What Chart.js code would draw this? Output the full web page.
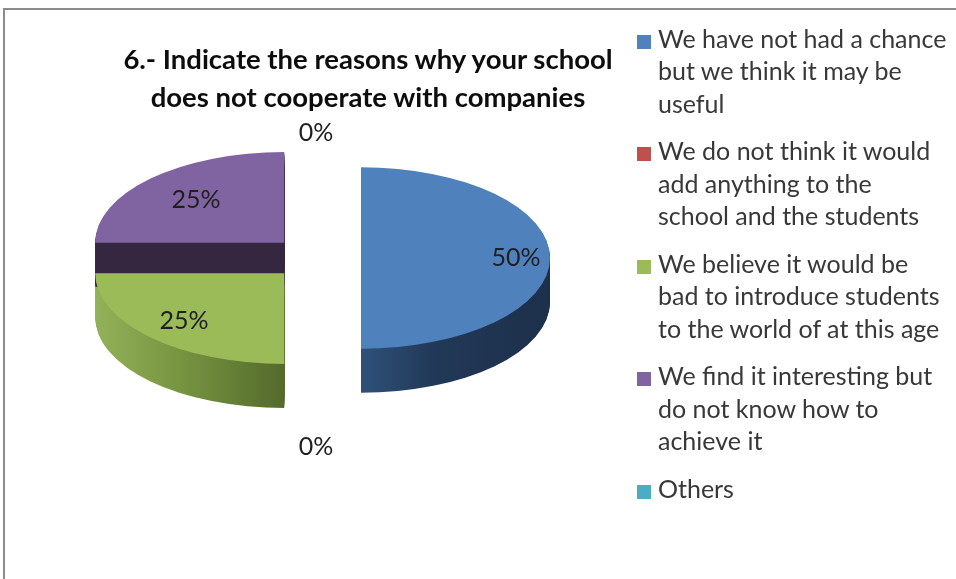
<!DOCTYPE html>
<html>
<head>
<meta charset="utf-8">
<title>Reasons for not cooperating with companies</title>
<script src="https://cdn.jsdelivr.net/npm/chart.js@4.4.0/dist/chart.umd.min.js"></script>
<style>
  html, body { margin: 0; padding: 0; background: #fff; overflow: hidden; }
  body { position: relative; width: 956px; height: 579px; font-family: Lato, "Open Sans", sans-serif; }
  .frame {
    position: absolute; left: 3px; top: 8px; width: 1000px; height: 620px;
    border-top: 2px solid #8c8c8c; border-left: 2px solid #8c8c8c;
  }
  #pie { position: absolute; left: 0; top: 0; }
  .title {
    position: absolute; left: 108px; top: 40px; width: 520px;
    text-align: center; white-space: nowrap;
    font-size: 27.5px; font-weight: 700; line-height: 38px; color: #0d0d0d;
  }
  .legend {
    position: absolute; left: 637px; top: 22px; margin: 0; padding: 0; list-style: none;
    font-size: 25px; line-height: 32.3px; color: #383838;
  }
  .legend li { position: relative; padding-left: 21px; margin-bottom: 15.6px; white-space: nowrap; }
  .legend .sw { position: absolute; left: 0; top: 13px; width: 14px; height: 14px; }
</style>
</head>
<body>
<div class="frame"></div>
<canvas id="pie" width="956" height="579"></canvas>
<div class="title">6.- Indicate the reasons why your school<br>does not cooperate with companies</div>
<ul class="legend" id="legend"></ul>

<script>
// answers (share of schools, %)
const reasons = [
  ['We have not had a chance', 'but we think it may be', 'useful'],
  ['We do not think it would', 'add anything to the', 'school and the students'],
  ['We believe it would be', 'bad to introduce students', 'to the world of at this age'],
  ['We find it interesting but', 'do not know how to', 'achieve it'],
  ['Others']
];
const shares = [50, 0, 25, 25, 0];

const topColors = ['#4f81bd', '#c0504d', '#9bbb59', '#8064a2', '#4bacc6'];
// side wall shading, left -> right
const sideColors = [
  ['#2f5179', '#213857', '#1d304b'],
  ['#7a2f2d', '#7a2f2d', '#5a2220'],
  ['#93b158', '#7a9843', '#546a2b'],
  ['#35273f', '#35273f', '#35273f'],
  ['#2d7385', '#2d7385', '#215664']
];
const explode = [45, 0, 45, 45, 0];      // px each slice is pulled out
const labelDist = [0.82, 1.6, 0.75, 0.66, 1.376]; // label radius as share of pie radius

const tilt = 0.48;   // vertical squash of the pie
const depth = 44;    // height of the side wall

// legend
const legendEl = document.getElementById('legend');
reasons.forEach((lines, i) => {
  const li = document.createElement('li');
  const sw = document.createElement('span');
  sw.className = 'sw';
  sw.style.background = topColors[i];
  li.appendChild(sw);
  lines.forEach((t, j) => {
    if (j) li.appendChild(document.createElement('br'));
    li.appendChild(document.createTextNode(t));
  });
  legendEl.appendChild(li);
});

function squash(ctx, cx, cy) {
  ctx.translate(cx, cy);
  ctx.scale(1, tilt);
  ctx.translate(-cx, -cy);
}

function slicePath(ctx, arc) {
  ctx.beginPath();
  ctx.moveTo(arc.x, arc.y);
  ctx.arc(arc.x, arc.y, arc.outerRadius, arc.startAngle, arc.endAngle);
  ctx.closePath();
}

// horizontal extent of a slice, for the side shading
function sliceSpan(arc) {
  let lo = arc.x, hi = arc.x;
  for (let k = 0; k <= 40; k++) {
    const a = arc.startAngle + (arc.endAngle - arc.startAngle) * k / 40;
    const x = arc.x + Math.cos(a) * arc.outerRadius;
    lo = Math.min(lo, x);
    hi = Math.max(hi, x);
  }
  return [lo, hi];
}

const pie3d = {
  id: 'pie3d',
  afterUpdate(chart) {
    chart.getDatasetMeta(0).data.forEach((arc, i) => {
      const mid = (arc.startAngle + arc.endAngle) / 2;
      arc.x += Math.cos(mid) * explode[i];
      arc.y += Math.sin(mid) * explode[i];
    });
  },
  beforeDatasetsDraw(chart) {
    const {ctx, chartArea} = chart;
    const cx = (chartArea.left + chartArea.right) / 2;
    const cy = (chartArea.top + chartArea.bottom) / 2;
    const arcs = chart.getDatasetMeta(0).data;

    // side walls first, stacked 1px layers
    arcs.forEach((arc, i) => {
      if (arc.circumference === 0) return;
      const [lo, hi] = sliceSpan(arc);
      const grad = ctx.createLinearGradient(lo, 0, hi, 0);
      grad.addColorStop(0, sideColors[i][0]);
      grad.addColorStop(0.4, sideColors[i][1]);
      grad.addColorStop(1, sideColors[i][2]);
      for (let t = depth; t > 0; t--) {
        ctx.save();
        ctx.translate(0, t);
        squash(ctx, cx, cy);
        slicePath(ctx, arc);
        ctx.fillStyle = grad;
        ctx.fill();
        ctx.restore();
      }
    });

    // the library draws the tops inside this squash
    ctx.save();
    squash(ctx, cx, cy);
  },
  afterDatasetsDraw(chart) {
    const {ctx, chartArea} = chart;
    ctx.restore();

    const cy = (chartArea.top + chartArea.bottom) / 2;
    const total = shares.reduce((a, b) => a + b, 0);
    ctx.save();
    ctx.font = '25px Lato, "Open Sans", sans-serif';
    ctx.fillStyle = '#1f1f1f';
    ctx.textAlign = 'center';
    ctx.textBaseline = 'middle';
    chart.getDatasetMeta(0).data.forEach((arc, i) => {
      const mid = (arc.startAngle + arc.endAngle) / 2;
      const r = arc.outerRadius * labelDist[i];
      const x = arc.x + Math.cos(mid) * r;
      let y = cy + (arc.y + Math.sin(mid) * r - cy) * tilt;
      if (labelDist[i] > 1 && Math.sin(mid) > 0) y += depth;
      ctx.fillText(Math.round(shares[i] / total * 100) + '%', x, y);
    });
    ctx.restore();
  }
};

new Chart(document.getElementById('pie'), {
  type: 'pie',
  data: {
    labels: reasons.map(l => l.join(' ')),
    datasets: [{
      data: shares,
      backgroundColor: topColors,
      borderWidth: 0,
      radius: 189,
      clip: false
    }]
  },
  options: {
    responsive: false,
    animation: false,
    events: [],
    layout: {
      padding: { left: 0, right: 324, top: 0, bottom: 63 }
    },
    plugins: {
      legend: { display: false },
      title: { display: false },
      tooltip: { enabled: false }
    }
  },
  plugins: [pie3d]
});
</script>
</body>
</html>
